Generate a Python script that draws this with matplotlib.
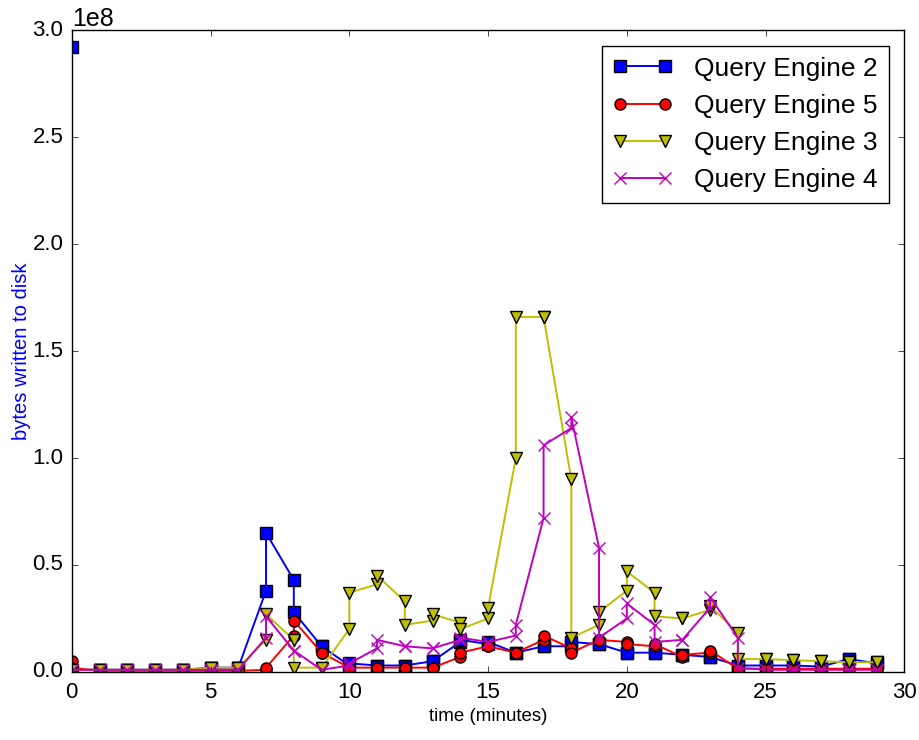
import matplotlib
matplotlib.use("Agg")
import matplotlib.pyplot as plt
import numpy as np

plt.style.use("classic")
plt.rcParams["font.family"] = ["Liberation Sans", "DejaVu Sans"]

# two samples per minute, minutes 0..29
minutes = np.repeat(np.arange(30), 2)

engine2 = [
    2.92, 0.01, 0.01, 0.01, 0.01, 0.01, 0.01, 0.01, 0.01, 0.01,
    0.02, 0.02, 0.02, 0.02, 0.38, 0.65, 0.43, 0.28, 0.12, 0.12,
    0.03, 0.04, 0.03, 0.03, 0.03, 0.03, 0.05, 0.05, 0.14, 0.15,
    0.13, 0.14, 0.09, 0.09, 0.12, 0.12, 0.12, 0.14, 0.13, 0.13,
    0.09, 0.09, 0.09, 0.09, 0.08, 0.08, 0.07, 0.07, 0.03, 0.03,
    0.03, 0.03, 0.03, 0.03, 0.025, 0.025, 0.06, 0.06, 0.04, 0.04,
]
engine5 = [
    0.05, 0.02, 0.005, 0.005, 0.005, 0.005, 0.005, 0.005, 0.005, 0.005,
    0.005, 0.005, 0.005, 0.005, 0.01, 0.02, 0.17, 0.24, 0.09, 0.09,
    0.02, 0.02, 0.02, 0.02, 0.02, 0.02, 0.02, 0.02, 0.07, 0.09,
    0.12, 0.12, 0.09, 0.09, 0.15, 0.17, 0.11, 0.09, 0.15, 0.15,
    0.14, 0.13, 0.12, 0.13, 0.07, 0.08, 0.09, 0.10, 0.015, 0.015,
    0.015, 0.015, 0.015, 0.015, 0.015, 0.015, 0.015, 0.015, 0.015, 0.015,
]
engine3 = [
    0.01, 0.01, 0.01, 0.01, 0.01, 0.01, 0.01, 0.01, 0.01, 0.01,
    0.02, 0.02, 0.02, 0.02, 0.15, 0.27, 0.15, 0.02, 0.02, 0.02,
    0.20, 0.37, 0.41, 0.45, 0.33, 0.22, 0.24, 0.27, 0.23, 0.20,
    0.25, 0.30, 1.00, 1.66, 1.66, 1.66, 0.90, 0.16, 0.22, 0.28,
    0.38, 0.47, 0.37, 0.26, 0.25, 0.25, 0.29, 0.31, 0.18, 0.06,
    0.06, 0.06, 0.055, 0.055, 0.05, 0.05, 0.045, 0.045, 0.045, 0.045,
]
engine4 = [
    0.01, 0.01, 0.01, 0.01, 0.01, 0.01, 0.01, 0.01, 0.01, 0.01,
    0.01, 0.01, 0.01, 0.01, 0.16, 0.26, 0.10, 0.10, 0.01, 0.01,
    0.03, 0.04, 0.11, 0.15, 0.12, 0.12, 0.11, 0.11, 0.15, 0.16,
    0.14, 0.14, 0.17, 0.22, 0.72, 1.06, 1.14, 1.19, 0.58, 0.16,
    0.25, 0.32, 0.22, 0.14, 0.15, 0.15, 0.30, 0.35, 0.16, 0.02,
    0.01, 0.01, 0.01, 0.01, 0.01, 0.01, 0.01, 0.01, 0.01, 0.01,
]

series = [
    ("Query Engine 2", engine2, "b", "s"),
    ("Query Engine 5", engine5, "r", "o"),
    ("Query Engine 3", engine3, "y", "v"),
    ("Query Engine 4", engine4, "m", "x"),
]

fig = plt.figure(figsize=(9.2, 7.4), dpi=100, facecolor="white")
ax = fig.add_axes([0.078, 0.092, 0.905, 0.867])

for label, vals, color, marker in series:
    ms = 9 if marker == "x" else 8
    ax.plot(minutes, np.asarray(vals) * 1e8, color=color, marker=marker,
            markersize=ms, markeredgecolor=color if marker == "x" else "k",
            markeredgewidth=1.0, linewidth=1.4, label=label)

ax.set_xlim(0, 30)
ax.set_ylim(0, 3.0e8)
ax.set_xticks(np.arange(0, 31, 5))
ax.set_yticks(np.arange(0, 3.01e8, 0.5e8))
ax.tick_params(labelsize=16)
ax.tick_params(axis="x", pad=7)
ax.tick_params(axis="y", pad=6)
ax.yaxis.get_offset_text().set_fontsize(18)

ax.set_xlabel("time (minutes)", fontsize=13.5, labelpad=4)
ax.set_ylabel("bytes written to disk", fontsize=14.5, color="b", labelpad=1)

leg = ax.legend(loc="upper right", fontsize=19, numpoints=2,
                borderaxespad=0.6, handlelength=2.3)
leg.get_frame().set_edgecolor("k")

fig.savefig("out.png", dpi=100, facecolor="white")
